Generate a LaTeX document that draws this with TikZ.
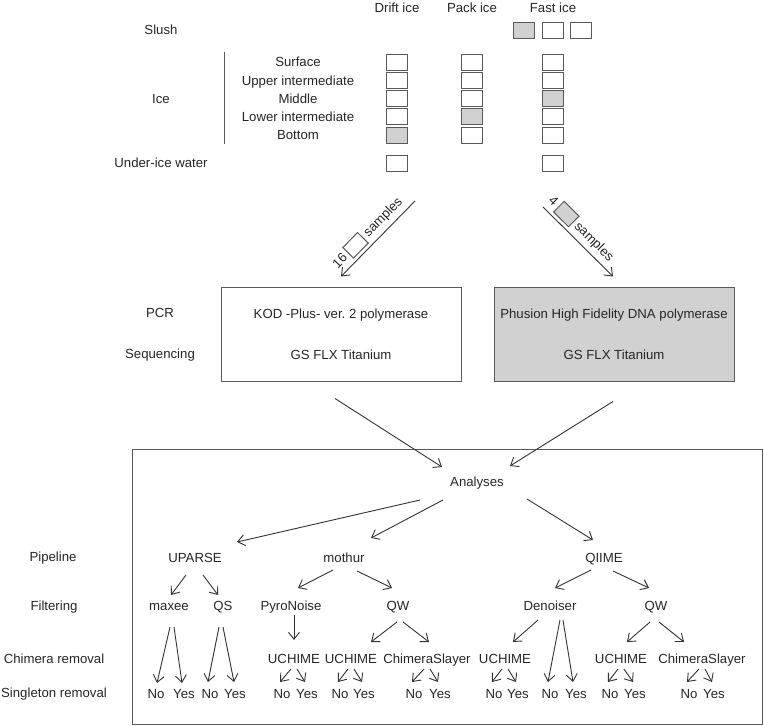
\documentclass[tikz,border=0pt]{standalone}
\usepackage{fontspec}
\setmainfont{Liberation Sans}
\usetikzlibrary{arrows.meta}
\definecolor{boxgray}{gray}{0.82}
\tikzstyle{txt}=[text=black!85, inner sep=0pt, text height=9.5pt, text depth=0pt]
\tikzstyle{cell}=[draw=black!65, line width=1pt, minimum width=21pt, minimum height=16pt, inner sep=0pt]
\tikzstyle{bigbox}=[draw=black!65, line width=1pt, minimum width=240pt, minimum height=94pt, align=center, text=black!85]
\tikzstyle{arr}=[->, draw=black!80, line width=0.9pt]
\setlength{\fboxsep}{0pt}
\setlength{\fboxrule}{1pt}
\newcommand{\samplebox}[1]{\raisebox{-3pt}{\fcolorbox{black!65}{#1}{\rule{0pt}{14pt}\rule{20pt}{0pt}}}}

\begin{document}
\begin{tikzpicture}[x=1pt, y=-1pt, font=\fontsize{13.2}{15}\selectfont, >={Straight Barb[length=7pt,width=11pt]}]
\useasboundingbox (0,0) rectangle (764,726);
% sampling
\node[txt] at (397,8) (drift) {Drift ice};
\node[txt] at (472,8) (pack) {Pack ice};
\node[txt] at (553,8) (fast) {Fast ice};
\node[txt] at (161,30) (slush) {Slush};
\node[txt] at (161,99) (ice) {Ice};
\node[txt] at (161,163) (water) {Under-ice water};
\node[txt] at (298,62) (surf) {Surface};
\node[txt] at (298,80.3) (upper) {Upper intermediate};
\node[txt] at (298,98.6) (mid) {Middle};
\node[txt] at (298,116.9) (lower) {Lower intermediate};
\node[txt] at (298,135.2) (bot) {Bottom};
\draw[black!65, line width=1pt] (224,52) -- (224,144);
\node[cell, fill=boxgray] at (524,30) (slush1) {};
\node[cell] at (553,30) (slush2) {};
\node[cell] at (581,30) (slush3) {};
\node[cell] at (396.5,62) (drift1) {};
\node[cell] at (396.5,80.3) (drift2) {};
\node[cell] at (396.5,98.6) (drift3) {};
\node[cell] at (396.5,116.9) (drift4) {};
\node[cell, fill=boxgray] at (396.5,135.2) (drift5) {};
\node[cell] at (396.5,163) (driftw) {};
\node[cell] at (471.5,62) (pack1) {};
\node[cell] at (471.5,80.3) (pack2) {};
\node[cell] at (471.5,98.6) (pack3) {};
\node[cell, fill=boxgray] at (471.5,116.9) (pack4) {};
\node[cell] at (471.5,135.2) (pack5) {};
\node[cell] at (553,62) (fast1) {};
\node[cell] at (553,80.3) (fast2) {};
\node[cell, fill=boxgray] at (553,98.6) (fast3) {};
\node[cell] at (553,116.9) (fast4) {};
\node[cell] at (553,135.2) (fast5) {};
\node[cell] at (553,163) (fastw) {};
% PCR and sequencing
\node[txt] at (160,313) (pcr) {PCR};
\node[txt] at (160,354) (seq) {Sequencing};
\node[bigbox] at (341,334) (kod) {KOD -Plus- ver.\ 2 polymerase\\[26pt]GS FLX Titanium};
\node[bigbox, fill=boxgray] at (614,334) (phusion) {Phusion High Fidelity DNA polymerase\\[26pt]GS FLX Titanium};
\coordinate (driftout) at (415,201);
\coordinate (fastout) at (543,207);
\draw[arr] (driftout) -- ([shift={(0,-10)}]kod.north) node[txt, sloped, above, pos=0.53, inner sep=3pt, text height=, text depth=] {16 \samplebox{white} samples};
\draw[arr] (fastout) -- ([shift={(-1,-10)}]phusion.north) node[txt, sloped, above, pos=0.43, inner sep=3pt, text height=, text depth=] {4 \samplebox{boxgray} samples};
% analyses
\draw[black!65, line width=1pt] (132,449) rectangle (762,724);
\node[txt] at (477,482) (analyses) {Analyses};
\draw[arr] ([shift={(-6,17)}]kod.south) -- ([shift={(-35,-15)}]analyses.center);
\draw[arr] ([shift={(-1,20)}]phusion.south) -- ([shift={(33,-16)}]analyses.center);
\node[txt] at (53,557) (pipeline) {Pipeline};
\node[txt] at (54,606) (filtering) {Filtering};
\node[txt] at (54,659) (chimera) {Chimera removal};
\node[txt] at (54,693) (singleton) {Singleton removal};
\node[txt] at (195,558) (uparse) {UPARSE};
\node[txt] at (344,558) (mothur) {mothur};
\node[txt] at (604,558) (qiime) {QIIME};
\node[txt] at (169,606) (maxee) {maxee};
\node[txt] at (223,606) (qs) {QS};
\node[txt] at (291,606) (pyro) {PyroNoise};
\node[txt] at (398,606) (qwm) {QW};
\node[txt] at (550,606) (denoiser) {Denoiser};
\node[txt] at (656,606) (qwq) {QW};
\node[txt] at (294,659) (uchp) {UCHIME};
\node[txt] at (351,659) (uchm) {UCHIME};
\node[txt] at (427,659) (csm) {ChimeraSlayer};
\node[txt] at (505,659) (uchd) {UCHIME};
\node[txt] at (621,659) (uchq) {UCHIME};
\node[txt] at (702,659) (csq) {ChimeraSlayer};
\node[txt] at (156,694) (n1) {No};
\node[txt] at (184,694) (y1) {Yes};
\node[txt] at (210,694) (n2) {No};
\node[txt] at (235,694) (y2) {Yes};
\node[txt] at (282,694) (n3) {No};
\node[txt] at (307,694) (y3) {Yes};
\node[txt] at (340,694) (n4) {No};
\node[txt] at (364,694) (y4) {Yes};
\node[txt] at (414,694) (n5) {No};
\node[txt] at (440,694) (y5) {Yes};
\node[txt] at (494,694) (n6) {No};
\node[txt] at (518,694) (y6) {Yes};
\node[txt] at (550,694) (n7) {No};
\node[txt] at (576,694) (y7) {Yes};
\node[txt] at (610,694) (n8) {No};
\node[txt] at (635,694) (y8) {Yes};
\node[txt] at (689,694) (n9) {No};
\node[txt] at (714,694) (y9) {Yes};
% pipelines
\draw[arr] ([shift={(-57,18)}]analyses.center) -- ([shift={(42,-16)}]uparse.center);
\draw[arr] ([shift={(-34,18)}]analyses.center) -- ([shift={(27,-20)}]mothur.center);
\draw[arr] ([shift={(50,17)}]analyses.center) -- ([shift={(-11,-18)}]qiime.center);
% filtering
\draw[arr] ([shift={(-9,17)}]uparse.center) -- ([shift={(2,-11)}]maxee.center);
\draw[arr] ([shift={(8,17)}]uparse.center) -- ([shift={(-5,-11)}]qs.center);
\draw[arr] ([shift={(-11,12)}]mothur.center) -- ([shift={(7,-18)}]pyro.center);
\draw[arr] ([shift={(13,13)}]mothur.center) -- ([shift={(-6,-18)}]qwm.center);
\draw[arr] ([shift={(-13,12)}]qiime.center) -- ([shift={(5,-18)}]denoiser.center);
\draw[arr] ([shift={(9,13)}]qiime.center) -- ([shift={(-7,-18)}]qwq.center);
% chimera removal
\draw[arr] ([shift={(1,21)}]maxee.center) -- ([shift={(1,-11)}]n1.center);
\draw[arr] ([shift={(5,21)}]maxee.center) -- ([shift={(-2,-11)}]y1.center);
\draw[arr] ([shift={(-4,21)}]qs.center) -- ([shift={(-2,-12)}]n2.center);
\draw[arr] ([shift={(0,21)}]qs.center) -- ([shift={(-1,-12)}]y2.center);
\draw[arr] ([shift={(3,9)}]pyro.center) -- ([shift={(0,-19)}]uchp.center);
\draw[arr] ([shift={(-1,16)}]qwm.center) -- ([shift={(20,-17)}]uchm.center);
\draw[arr] ([shift={(5,16)}]qwm.center) -- ([shift={(2,-17)}]csm.center);
\draw[arr] ([shift={(-12,14)}]denoiser.center) -- ([shift={(8,-17)}]uchd.center);
\draw[arr] ([shift={(10,14)}]denoiser.center) -- ([shift={(-2,-12)}]n7.center);
\draw[arr] ([shift={(13,14)}]denoiser.center) -- ([shift={(-3,-12)}]y7.center);
\draw[arr] ([shift={(-6,16)}]qwq.center) -- ([shift={(6,-17)}]uchq.center);
\draw[arr] ([shift={(3,16)}]qwq.center) -- ([shift={(-18,-17)}]csq.center);
% singleton removal
\draw[arr] ([shift={(-3,10)}]uchp.center) -- ([shift={(-2,-12)}]n3.center);
\draw[arr] ([shift={(3,10)}]uchp.center) -- ([shift={(-2,-12)}]y3.center);
\draw[arr] ([shift={(-3,10)}]uchm.center) -- ([shift={(-2,-12)}]n4.center);
\draw[arr] ([shift={(3,10)}]uchm.center) -- ([shift={(-2,-12)}]y4.center);
\draw[arr] ([shift={(-3,10)}]csm.center) -- ([shift={(-2,-12)}]n5.center);
\draw[arr] ([shift={(3,10)}]csm.center) -- ([shift={(-2,-12)}]y5.center);
\draw[arr] ([shift={(-3,10)}]uchd.center) -- ([shift={(-2,-12)}]n6.center);
\draw[arr] ([shift={(3,10)}]uchd.center) -- ([shift={(-2,-12)}]y6.center);
\draw[arr] ([shift={(-3,10)}]uchq.center) -- ([shift={(-2,-12)}]n8.center);
\draw[arr] ([shift={(3,10)}]uchq.center) -- ([shift={(-2,-12)}]y8.center);
\draw[arr] ([shift={(-3,10)}]csq.center) -- ([shift={(-2,-12)}]n9.center);
\draw[arr] ([shift={(3,10)}]csq.center) -- ([shift={(-2,-12)}]y9.center);
\end{tikzpicture}
\end{document}
